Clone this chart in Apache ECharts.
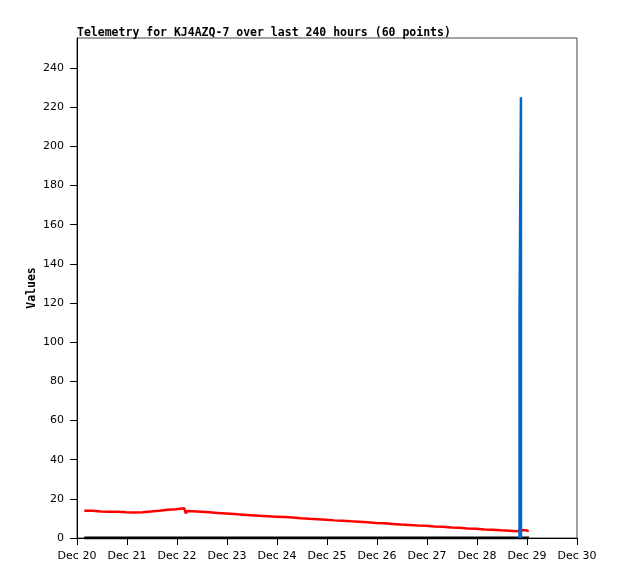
<!DOCTYPE html>
<html>
<head>
<meta charset="utf-8">
<script src="https://cdn.jsdelivr.net/npm/echarts@6/dist/echarts.min.js"></script>
<style>
html,body{margin:0;padding:0;background:#fff;}
#chart{width:618px;height:579px;}
</style>
</head>
<body>
<div id="chart"></div>
<script>
const titleText = 'Telemetry for KJ4AZQ-7 over last 240 hours (60 points)';
const yAxisName = 'Values';
const xTickHours = [0, 24, 48, 72, 96, 120, 144, 168, 192, 216, 240];
const xTickLabels = ['Dec 20', 'Dec 21', 'Dec 22', 'Dec 23', 'Dec 24', 'Dec 25', 'Dec 26', 'Dec 27', 'Dec 28', 'Dec 29', 'Dec 30'];
const yTickValues = [0, 20, 40, 60, 80, 100, 120, 140, 160, 180, 200, 220, 240];

// hours since Dec 20 00:00
const redHours = [3.5, 7.5, 11.5, 15.5, 19.5, 23.5, 27.5, 31.5, 35.5, 39.5, 43.5, 47.5, 51.5, 52.2, 53.0,
  55.5, 59.5, 63.5, 67.5, 71.5, 75.5, 79.5, 83.5, 87.5, 91.5, 95.5, 99.5, 103.5, 107.5, 111.5,
  115.5, 119.5, 123.5, 127.5, 131.5, 135.5, 139.5, 143.5, 147.5, 151.5, 155.5, 159.5, 163.5,
  167.5, 171.5, 175.5, 179.5, 183.5, 187.5, 191.5, 195.5, 199.5, 203.5, 207.5, 211.5, 213.0,
  215.5, 216.2, 216.8];
const redValues = [13.9, 13.9, 13.5, 13.4, 13.4, 13.1, 13.0, 13.1, 13.5, 13.9, 14.4, 14.7, 15.2, 12.6, 13.8,
  13.7, 13.4, 13.1, 12.8, 12.5, 12.2, 11.9, 11.6, 11.3, 11.1, 10.9, 10.7, 10.5, 10.1, 9.8,
  9.6, 9.3, 9.0, 8.8, 8.5, 8.3, 8.0, 7.7, 7.5, 7.2, 6.9, 6.7, 6.4,
  6.2, 5.9, 5.7, 5.4, 5.2, 4.9, 4.7, 4.4, 4.2, 3.9, 3.7, 3.5, 4.1,
  4.0, 3.0, 3.4];
const blueHours = [212.4, 212.4, 213.1, 213.1];
const blueValues = [0, 112, 225, 0];
const blackHours = [3.5, 217.0];
const blackValues = [0, 0];

function pairs(xs, ys) { return xs.map((x, i) => [x, ys[i]]); }

const chart = echarts.init(document.getElementById('chart'), null, {renderer: 'canvas'});
chart.setOption({
  animation: false,
  backgroundColor: '#ffffff',
  title: {
    text: titleText,
    left: 72, top: 22,
    textStyle: {fontFamily: 'DejaVu Sans Mono', fontWeight: 'bold', fontSize: 11.5, color: '#000'}
  },
  grid: {left: 77, right: 41, top: 38, bottom: 41, show: true, borderColor: '#444', borderWidth: 1, backgroundColor: 'transparent'},
  xAxis: {
    type: 'value', min: 0, max: 240, interval: 24,
    axisLine: {show: true, lineStyle: {color: '#000', width: 1}},
    axisTick: {show: true, inside: false, length: 7, lineStyle: {color: '#000'}},
    axisLabel: {
      margin: 13, color: '#000', fontFamily: 'DejaVu Sans', fontSize: 11,
      formatter: v => { const i = xTickHours.indexOf(v); return i >= 0 ? xTickLabels[i] : ''; }
    },
    splitLine: {show: false}
  },
  yAxis: {
    type: 'value', min: 0, max: 255.3,
    name: yAxisName, nameLocation: 'middle', nameGap: 39, nameRotate: 90, nameMoveOverlap: false,
    nameTextStyle: {fontFamily: 'DejaVu Sans Mono', fontWeight: 'bold', fontSize: 11.5, color: '#000'},
    axisLine: {show: true, lineStyle: {color: '#000', width: 1}},
    axisTick: {show: true, length: 7, customValues: yTickValues, lineStyle: {color: '#000'}},
    axisLabel: {margin: 13, color: '#000', fontFamily: 'DejaVu Sans', fontSize: 11, customValues: yTickValues},
    splitLine: {show: false}
  },
  series: [
    {type: 'line', data: pairs(blackHours, blackValues), showSymbol: false, lineStyle: {color: '#000', width: 3}, z: 2},
    {type: 'line', data: pairs(redHours, redValues), showSymbol: false, lineStyle: {color: '#ff0000', width: 2.5}, z: 3},
    {type: 'line', data: pairs(blueHours, blueValues), showSymbol: false, lineStyle: {color: '#0066cc', width: 2.5}, z: 4}
  ]
});
</script>
</body>
</html>
